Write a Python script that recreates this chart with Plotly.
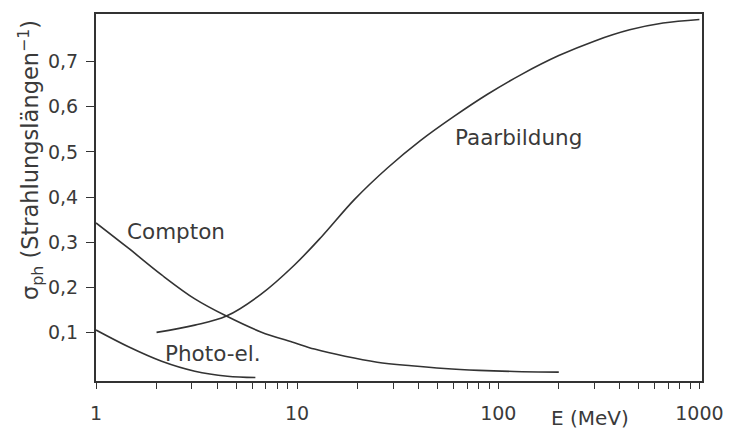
import plotly.graph_objects as go

# Photon interaction probability per radiation length vs. energy
compton_E = [1, 1.45, 2.12, 3.1, 4.45, 6.6, 9.7, 12.2, 17.3, 25, 37, 54, 80, 120, 200]
compton_y = [0.343, 0.287, 0.228, 0.175, 0.137, 0.102, 0.078, 0.064, 0.048,
             0.035, 0.027, 0.021, 0.017, 0.0145, 0.013]

paar_E = [2, 3.1, 4.45, 6.6, 9.7, 13.2, 19.3, 28.2, 41, 60, 88, 130, 200, 300,
          450, 660, 1000]
paar_y = [0.101, 0.117, 0.137, 0.185, 0.250, 0.312, 0.395, 0.465, 0.525, 0.578,
          0.627, 0.671, 0.713, 0.745, 0.770, 0.785, 0.793]

photo_E = [1, 1.45, 2.12, 3.1, 4.5, 6.2]
photo_y = [0.106, 0.069, 0.037, 0.015, 0.004, 0.001]

x_major = [1, 10, 100, 1000]
x_major_text = ["1", "10", "100", "1000"]
x_minor = [m * d for d in (1, 10, 100) for m in range(2, 10)]
y_ticks = [0.1, 0.2, 0.3, 0.4, 0.5, 0.6, 0.7]

INK = "#333333"
TXT = "#3a3a3a"
FONT = "DejaVu Sans"

fig = go.Figure()
line_style = dict(color=INK, width=1.6, shape="spline", smoothing=1)
fig.add_trace(go.Scatter(x=compton_E, y=compton_y, mode="lines", line=line_style,
                         name="Compton"))
fig.add_trace(go.Scatter(x=paar_E, y=paar_y, mode="lines", line=line_style,
                         name="Paarbildung"))
fig.add_trace(go.Scatter(x=photo_E, y=photo_y, mode="lines", line=line_style,
                         name="Photo-el."))

fig.update_layout(
    width=736, height=436,
    margin=dict(l=96, r=30, t=14, b=51),
    paper_bgcolor="white", plot_bgcolor="white",
    showlegend=False,
    separators=",.",
    font=dict(family=FONT, size=19, color=TXT),
)

fig.update_xaxes(
    type="log", range=[0, 3.013],
    tickmode="array", tickvals=x_major, ticktext=x_major_text,
    ticks="outside", ticklen=6, tickwidth=1.3, tickcolor=INK,
    ticklabelstandoff=8,
    minor=dict(tickmode="array", tickvals=x_minor, ticks="outside",
               ticklen=6, tickwidth=1.3, tickcolor=INK, showgrid=False),
    showline=True, linecolor=INK, linewidth=2, mirror=True,
    showgrid=False, zeroline=False,
    tickfont=dict(size=19, color=TXT),
)
fig.update_yaxes(
    range=[-0.0066, 0.805],
    tickmode="array", tickvals=y_ticks, tickformat=".1f",
    ticks="outside", ticklen=8, tickwidth=1.3, tickcolor=INK,
    ticklabelstandoff=4,
    showline=True, linecolor=INK, linewidth=2, mirror=True,
    showgrid=False, zeroline=False,
    tickfont=dict(size=19, color=TXT),
)

label_font = dict(family=FONT, size=21.5, color=TXT)
fig.add_annotation(x=0.398, y=0.325, xref="x", yref="y", text="Compton",
                   showarrow=False, font=label_font, xanchor="center", yanchor="middle")
fig.add_annotation(x=0.583, y=0.054, xref="x", yref="y", text="Photo-el.",
                   showarrow=False, font=label_font, xanchor="center", yanchor="middle")
fig.add_annotation(x=1.777, y=0.532, xref="x", yref="y", text="Paarbildung",
                   showarrow=False, font=label_font, xanchor="left", yanchor="middle")
fig.add_annotation(x=0.816, y=-0.102, xref="paper", yref="paper", text="E (MeV)",
                   showarrow=False, font=dict(family=FONT, size=20, color=TXT),
                   xanchor="center", yanchor="middle")
fig.add_annotation(x=-0.109, y=0.602, xref="paper", yref="paper",
                   text="σ<sub>ph</sub> (Strahlungslängen<sup>−1</sup>)",
                   showarrow=False, font=dict(family=FONT, size=22.5, color=TXT),
                   textangle=-90, xanchor="center", yanchor="middle")

fig.write_html("out.html")
